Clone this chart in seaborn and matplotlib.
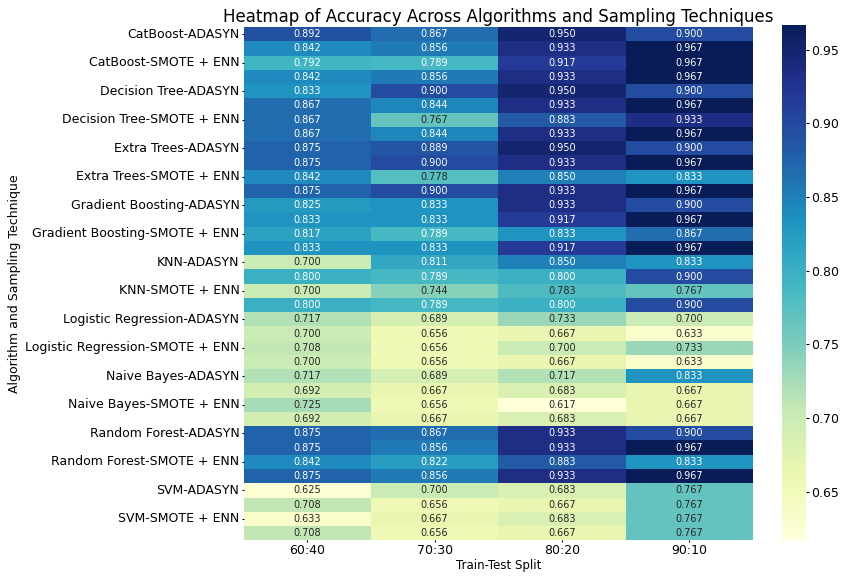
import numpy as np
import pandas as pd
import seaborn as sns
import matplotlib.pyplot as plt

algoritmos = ['CatBoost', 'Decision Tree', 'Extra Trees', 'Gradient Boosting', 'KNN',
              'Logistic Regression', 'Naive Bayes', 'Random Forest', 'SVM']
muestreos = ['ADASYN', 'SMOTE', 'SMOTE + ENN', 'SMOTE + Tomek']
splits = ['60:40', '70:30', '80:20', '90:10']

# Una fila por combinación algoritmo-muestreo, columnas = splits
acc_60_40 = [0.892, 0.842, 0.792, 0.842, 0.833, 0.867, 0.867, 0.867, 0.875, 0.875, 0.842, 0.875,
             0.825, 0.833, 0.817, 0.833, 0.700, 0.800, 0.700, 0.800, 0.717, 0.700, 0.708, 0.700,
             0.717, 0.692, 0.725, 0.692, 0.875, 0.875, 0.842, 0.875, 0.625, 0.708, 0.633, 0.708]
acc_70_30 = [0.867, 0.856, 0.789, 0.856, 0.900, 0.844, 0.767, 0.844, 0.889, 0.900, 0.778, 0.900,
             0.833, 0.833, 0.789, 0.833, 0.811, 0.789, 0.744, 0.789, 0.689, 0.656, 0.656, 0.656,
             0.689, 0.667, 0.656, 0.667, 0.867, 0.856, 0.822, 0.856, 0.700, 0.656, 0.667, 0.656]
acc_80_20 = [0.950, 0.933, 0.917, 0.933, 0.950, 0.933, 0.883, 0.933, 0.950, 0.933, 0.850, 0.933,
             0.933, 0.917, 0.833, 0.917, 0.850, 0.800, 0.783, 0.800, 0.733, 0.667, 0.700, 0.667,
             0.717, 0.683, 0.617, 0.683, 0.933, 0.933, 0.883, 0.933, 0.683, 0.667, 0.683, 0.667]
acc_90_10 = [0.900, 0.967, 0.967, 0.967, 0.900, 0.967, 0.933, 0.967, 0.900, 0.967, 0.833, 0.967,
             0.900, 0.967, 0.867, 0.967, 0.833, 0.900, 0.767, 0.900, 0.700, 0.633, 0.733, 0.633,
             0.833, 0.667, 0.667, 0.667, 0.900, 0.967, 0.833, 0.967, 0.767, 0.767, 0.767, 0.767]

filas = [f'{a}-{m}' for a in algoritmos for m in muestreos]
df = pd.DataFrame({'60:40': acc_60_40, '70:30': acc_70_30,
                   '80:20': acc_80_20, '90:10': acc_90_10}, index=filas)

fig = plt.figure(figsize=(8.43, 5.76), dpi=100)
ax = fig.add_axes([0.289, 0.062, 0.604, 0.891])
cax = fig.add_axes([0.928, 0.062, 0.028, 0.895])

sns.heatmap(df, annot=True, fmt='.3f', cmap='YlGnBu', ax=ax, cbar_ax=cax,
            yticklabels=2, annot_kws={'fontsize': 7})
ax.set_title('Heatmap of Accuracy Across Algorithms and Sampling Techniques', fontsize=12, pad=4)
ax.set_xlabel('Train-Test Split', fontsize=8.5, labelpad=1)
ax.set_ylabel('Algorithm and Sampling Technique', fontsize=9, labelpad=3)
ax.tick_params(axis='both', labelsize=9, length=1.5, pad=1.5)
plt.setp(ax.get_yticklabels(), rotation=0)
cax.tick_params(labelsize=9, length=2, pad=2)

plt.savefig('out.png', dpi=100)
